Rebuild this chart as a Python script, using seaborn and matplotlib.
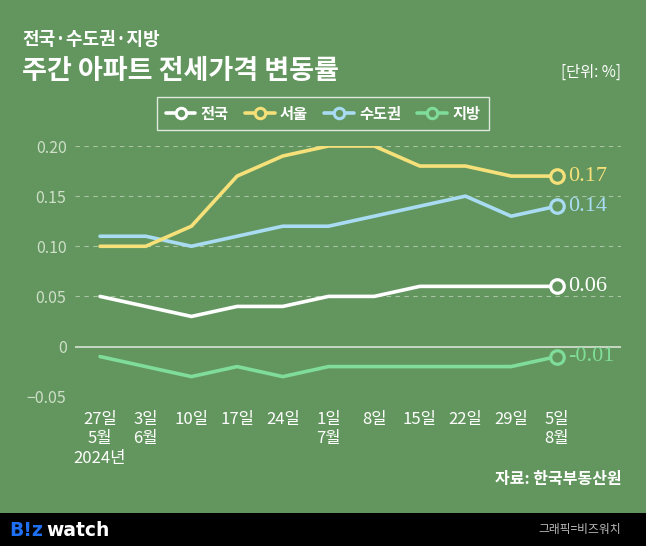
import pandas as pd
import numpy as np
import matplotlib.pyplot as plt
import seaborn as sns
from matplotlib.lines import Line2D
from matplotlib.patches import Rectangle

# 데이터
weeks = ["27일\n5월\n2024년", "3일\n6월", "10일", "17일", "24일", "1일\n7월",
         "8일", "15일", "22일", "29일", "5일\n8월"]
national = [0.05, 0.04, 0.03, 0.04, 0.04, 0.05, 0.05, 0.06, 0.06, 0.06, 0.06]
seoul = [0.10, 0.10, 0.12, 0.17, 0.19, 0.20, 0.20, 0.18, 0.18, 0.17, 0.17]
capital = [0.11, 0.11, 0.10, 0.11, 0.12, 0.12, 0.13, 0.14, 0.15, 0.13, 0.14]
local = [-0.01, -0.02, -0.03, -0.02, -0.03, -0.02, -0.02, -0.02, -0.02, -0.02, -0.01]
series_names = ["전국", "서울", "수도권", "지방"]
yticks = [-0.05, 0, 0.05, 0.10, 0.15, 0.20]
ytick_labels = ["−0.05", "0", "0.05", "0.10", "0.15", "0.20"]

bg = "#62965e"
colors = {"전국": "#ffffff", "서울": "#f5e07a", "수도권": "#a9dcf3", "지방": "#7fdc9a"}

sns.set_style("white")
plt.rcParams['font.family'] = ['Noto Sans CJK KR', 'DejaVu Sans']

df = pd.DataFrame({
    "idx": list(range(len(weeks))) * 4,
    "value": national + seoul + capital + local,
    "series": sum([[n] * len(weeks) for n in series_names], []),
})

fig = plt.figure(figsize=(6.46, 5.46), dpi=100, facecolor=bg)
ax = fig.add_axes([0.116, 0.2735, 0.845, 0.4591])
ax.set_facecolor(bg)

sns.lineplot(data=df, x="idx", y="value", hue="series", palette=colors,
             hue_order=["지방", "수도권", "서울", "전국"], linewidth=2.6,
             legend=False, ax=ax, solid_capstyle="round")

# 마지막 값 표시
last = df[df["idx"] == len(weeks) - 1]
for _, r in last.iterrows():
    c = colors[r["series"]]
    ax.scatter(r["idx"], r["value"], s=95, facecolor=bg, edgecolor=c,
               linewidth=2.3, zorder=5)
    ax.annotate(f"{r['value']:.2f}", (r["idx"], r["value"]), xytext=(8, 0),
                textcoords="offset points", va="center", ha="left",
                color=c, fontsize=16, family="Liberation Serif")

ax.set_xlim(-0.55, 11.4)
ax.set_ylim(-0.05, 0.2)
ax.set_yticks(yticks)
ax.set_yticklabels(ytick_labels)
ax.set_xticks(range(len(weeks)))
ax.set_xticklabels(weeks, linespacing=1.2)
for y in yticks:
    if y == 0:
        ax.axhline(0, color="#d9e3d4", linewidth=1.2, zorder=1)
    else:
        ax.axhline(y, color="#a9c4a2", linewidth=0.8, dashes=(4, 4), zorder=1)
for s in ax.spines.values():
    s.set_visible(False)
ax.tick_params(axis="y", length=0, labelsize=11.5, labelcolor="#cfdfc9", pad=6)
ax.tick_params(axis="x", length=6, width=1, color="#d0dccb", labelsize=12,
               labelcolor="white", pad=4, direction="out")
ax.set_xlabel("")
ax.set_ylabel("")

# 범례
handles = [Line2D([0], [0], color=colors[n], linewidth=2.6, marker="o",
                  markersize=7.5, markerfacecolor=bg, markeredgecolor=colors[n],
                  markeredgewidth=2.2) for n in series_names]
leg = fig.legend(handles, series_names, loc="center", bbox_to_anchor=(0.5, 0.792),
                 ncol=4, frameon=True, fontsize=11, handlelength=1.95,
                 handletextpad=0.35, columnspacing=1.05, borderpad=0.55)
leg.get_frame().set_facecolor("none")
leg.get_frame().set_edgecolor("white")
leg.get_frame().set_linewidth(1)
leg.get_frame().set_boxstyle("square", pad=0)
for t in leg.get_texts():
    t.set_color("white")
    t.set_fontweight("bold")

# 제목
fig.text(0.034, 0.928, "전국·수도권·지방", color="white", fontsize=13,
         fontweight="bold", va="center")
fig.text(0.034, 0.870, "주간 아파트 전세가격 변동률", color="white", fontsize=19.5,
         fontweight="bold", va="center")
fig.text(0.962, 0.867, "[단위: %]", color="white", fontsize=11, ha="right", va="center")
fig.text(0.962, 0.122, "자료: 한국부동산원", color="white", fontsize=11.5,
         fontweight="bold", ha="right", va="center")

# 하단 바
fig.patches.append(Rectangle((0, 0), 1, 0.0604, transform=fig.transFigure,
                             facecolor="black", edgecolor="none", zorder=0))
fig.text(0.014, 0.028, "B!z", color="#1f6ff2", fontsize=13.5, fontweight="bold",
         va="center", family="DejaVu Sans")
fig.text(0.071, 0.028, "watch", color="white", fontsize=13.5, fontweight="bold",
         va="center", family="DejaVu Sans")
fig.text(0.962, 0.030, "그래픽=비즈워치", color="#bbbbbb", fontsize=8.5,
         ha="right", va="center")

fig.savefig("out.png", dpi=100, facecolor=bg)
